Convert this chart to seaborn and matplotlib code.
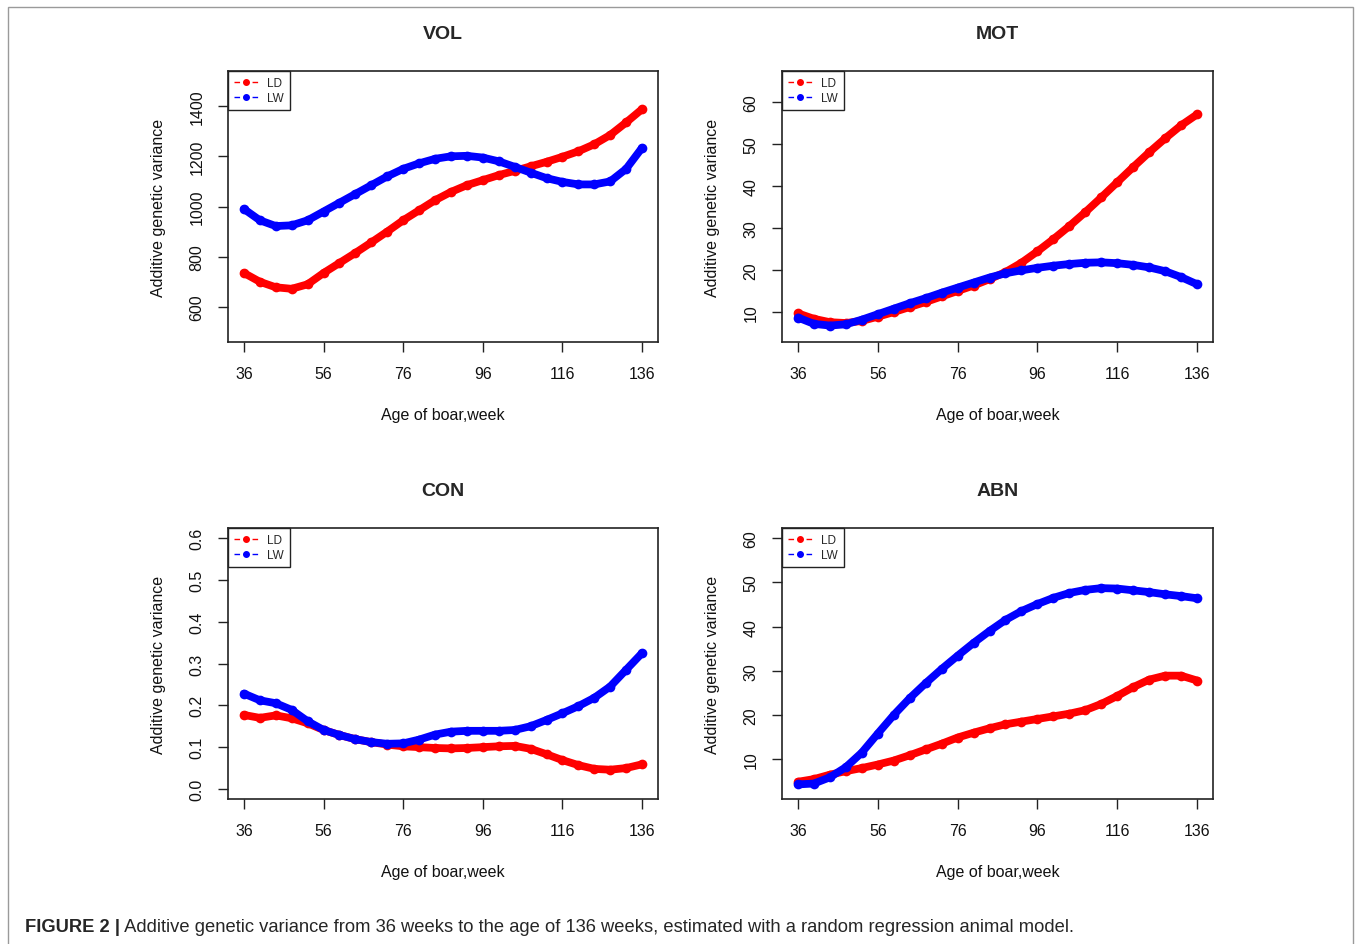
import pandas as pd
import matplotlib
matplotlib.use("Agg")
import matplotlib.pyplot as plt
from matplotlib.lines import Line2D
from matplotlib.patches import Rectangle
import seaborn as sns

# Values, every 4 weeks
weeks = [36, 40, 44, 48, 52, 56, 60, 64, 68, 72, 76, 80, 84,
         88, 92, 96, 100, 104, 108, 112, 116, 120, 124, 128, 132, 136]

vol_ld = [735, 700, 678, 672, 690, 735, 775, 815, 857, 900, 945, 985, 1025,
          1058, 1085, 1105, 1125, 1142, 1160, 1178, 1198, 1220, 1248, 1285, 1335, 1388]
vol_lw = [990, 945, 922, 925, 945, 980, 1015, 1050, 1085, 1120, 1150, 1172, 1190,
          1200, 1202, 1195, 1180, 1158, 1135, 1113, 1098, 1088, 1088, 1100, 1150, 1234]

mot_ld = [9.8, 8.5, 7.7, 7.5, 8.0, 9.0, 10.1, 11.3, 12.5, 13.8, 15.1, 16.4, 17.9,
          19.6, 21.8, 24.5, 27.4, 30.5, 33.8, 37.3, 40.9, 44.5, 48.0, 51.3, 54.4, 57.0]
mot_lw = [8.8, 7.3, 6.9, 7.2, 8.3, 9.6, 10.9, 12.2, 13.4, 14.7, 15.9, 17.1, 18.3,
          19.3, 20.0, 20.6, 21.1, 21.5, 21.8, 21.9, 21.7, 21.3, 20.7, 19.8, 18.4, 16.7]

con_ld = [0.177, 0.170, 0.176, 0.169, 0.157, 0.141, 0.129, 0.119, 0.112, 0.106, 0.102, 0.100, 0.098,
          0.097, 0.098, 0.100, 0.102, 0.103, 0.096, 0.083, 0.069, 0.057, 0.048, 0.046, 0.050, 0.059]
con_lw = [0.228, 0.212, 0.205, 0.189, 0.162, 0.141, 0.129, 0.119, 0.112, 0.108, 0.109, 0.118, 0.130,
          0.137, 0.139, 0.139, 0.139, 0.141, 0.150, 0.165, 0.181, 0.198, 0.218, 0.245, 0.285, 0.325]

abn_ld = [4.9, 5.5, 6.5, 7.3, 8.0, 8.8, 9.7, 10.9, 12.2, 13.5, 14.9, 16.0, 17.0,
          17.9, 18.5, 19.1, 19.7, 20.3, 21.1, 22.5, 24.3, 26.3, 28.0, 28.9, 28.9, 27.8]
abn_lw = [4.3, 4.5, 5.9, 8.2, 11.5, 15.8, 20.0, 23.8, 27.2, 30.4, 33.4, 36.3, 39.0,
          41.5, 43.5, 45.1, 46.5, 47.6, 48.3, 48.7, 48.6, 48.2, 47.8, 47.3, 46.9, 46.4]

traits = ["VOL", "MOT", "CON", "ABN"]
breeds = ["LD", "LW"]
x_ticks = [36, 56, 76, 96, 116, 136]
y_ticks = {
    "VOL": [600, 800, 1000, 1200, 1400],
    "MOT": [10, 20, 30, 40, 50, 60],
    "CON": [0.0, 0.1, 0.2, 0.3, 0.4, 0.5, 0.6],
    "ABN": [10, 20, 30, 40, 50, 60],
}
y_labels = {
    "VOL": ["600", "800", "1000", "1200", "1400"],
    "MOT": ["10", "20", "30", "40", "50", "60"],
    "CON": ["0.0", "0.1", "0.2", "0.3", "0.4", "0.5", "0.6"],
    "ABN": ["10", "20", "30", "40", "50", "60"],
}
y_limits = {"VOL": (460, 1540), "MOT": (3.0, 67.3), "CON": (-0.024, 0.624), "ABN": (1.0, 62.3)}
caption_bold = "FIGURE 2 |"
caption_text = (" Additive genetic variance from 36 weeks to the age of 136 weeks, "
                "estimated with a random regression animal model.")

series = {("VOL", "LD"): vol_ld, ("VOL", "LW"): vol_lw,
          ("MOT", "LD"): mot_ld, ("MOT", "LW"): mot_lw,
          ("CON", "LD"): con_ld, ("CON", "LW"): con_lw,
          ("ABN", "LD"): abn_ld, ("ABN", "LW"): abn_lw}

rows = []
for (trait, breed), vals in series.items():
    for w, v in zip(weeks, vals):
        rows.append({"trait": trait, "breed": breed, "week": w, "variance": v})
df = pd.DataFrame(rows)

palette = {"LD": "#ff0000", "LW": "#0000ff"}

sns.set_style("ticks")
plt.rcParams["font.family"] = ["Liberation Sans", "DejaVu Sans"]

W, H = 1355, 945
fig = plt.figure(figsize=(W / 100, H / 100), dpi=100)

# axes boxes in pixels: left, top, right, bottom
boxes = {"VOL": (228, 72, 658, 343), "MOT": (782, 72, 1213, 343),
         "CON": (228, 529, 658, 800), "ABN": (782, 529, 1213, 800)}

for trait in traits:
    l, t, r, b = boxes[trait]
    ax = fig.add_axes([l / W, 1 - b / H, (r - l) / W, (b - t) / H])
    sub = df[df["trait"] == trait]
    sns.lineplot(data=sub, x="week", y="variance", hue="breed", hue_order=breeds,
                 palette=palette, linewidth=5.6, marker="o", markersize=7,
                 markeredgewidth=0, legend=False, ax=ax)

    ax.set_xlim(32, 140)
    ax.set_ylim(*y_limits[trait])
    ax.set_xticks(x_ticks)
    ax.set_xticklabels([str(x) for x in x_ticks])
    ax.set_yticks(y_ticks[trait])
    ax.set_yticklabels(y_labels[trait], rotation=90, va="center")
    ax.tick_params(direction="out", length=7, width=1, color="#222222",
                   labelsize=11.5, labelcolor="#111111", pad=10)
    for sp in ax.spines.values():
        sp.set_visible(True)
        sp.set_color("#222222")
        sp.set_linewidth(1.2)

    ax.set_title(trait, fontsize=14, fontweight="bold", pad=24)
    ax.set_xlabel("Age of boar,week", fontsize=11.5, color="#111111")
    ax.set_ylabel("Additive genetic variance", fontsize=11.5, color="#111111")
    ax.xaxis.set_label_coords(0.5, -0.24)
    ax.yaxis.set_label_coords(-0.145, 0.5)

    # R style legend: dashed line with a dot
    handles = [Line2D([0], [0], color=palette[br], lw=1, ls=(0, (4, 2.5)),
                      marker="o", markersize=4) for br in breeds]
    leg = ax.legend(handles, breeds, loc="upper left", bbox_to_anchor=(0, 1),
                    borderaxespad=0, fontsize=8.5, fancybox=False, framealpha=1,
                    edgecolor="#222222", handlelength=2.0, borderpad=0.5,
                    labelspacing=0.3, handletextpad=0.8)
    leg.get_frame().set_linewidth(1)

# light frame around the figure
fig.patches.append(Rectangle((8 / W, -0.02), (1353 - 8) / W, 1.02 - 8 / H,
                             transform=fig.transFigure, fill=False,
                             edgecolor="#9a9a9a", lw=1))

t1 = fig.text(25 / W, 1 - 928 / H, caption_bold, fontsize=13.25, fontweight="bold",
              va="center", ha="left")
fig.canvas.draw()
bb = t1.get_window_extent()
fig.text(bb.x1 / W, 1 - 928 / H, caption_text, fontsize=13.25, va="center", ha="left")

fig.savefig("out.png", dpi=100)
